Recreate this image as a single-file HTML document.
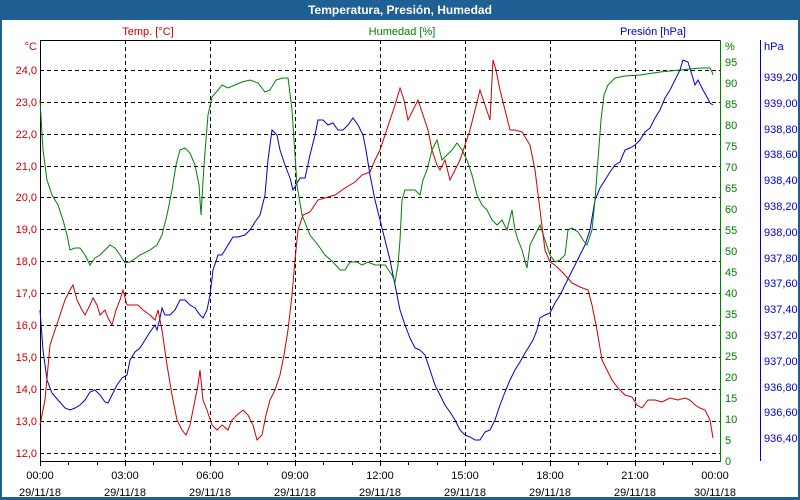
<!DOCTYPE html>
<html><head><meta charset="utf-8"><style>
body{margin:0;width:800px;height:500px;overflow:hidden;background:#fff}
svg{display:block}
text{font-family:"Liberation Sans","DejaVu Sans",sans-serif;font-size:11px}
</style></head><body>
<svg width="800" height="500" xmlns="http://www.w3.org/2000/svg">
<rect x="0" y="0" width="800" height="500" fill="#1e5f94"/>
<rect x="2" y="20" width="796" height="477" fill="#fff"/>
<text x="400" y="14" fill="#fff" text-anchor="middle" font-weight="bold" style="font-size:12px">Temperatura, Presión, Humedad</text>
<g stroke="#000" stroke-dasharray="4,3" stroke-width="1">
<line x1="40" y1="70.5" x2="720" y2="70.5"/><line x1="40" y1="102.5" x2="720" y2="102.5"/><line x1="40" y1="134.5" x2="720" y2="134.5"/><line x1="40" y1="166.5" x2="720" y2="166.5"/><line x1="40" y1="197.5" x2="720" y2="197.5"/><line x1="40" y1="229.5" x2="720" y2="229.5"/><line x1="40" y1="261.5" x2="720" y2="261.5"/><line x1="40" y1="293.5" x2="720" y2="293.5"/><line x1="40" y1="325.5" x2="720" y2="325.5"/><line x1="40" y1="357.5" x2="720" y2="357.5"/><line x1="40" y1="389.5" x2="720" y2="389.5"/><line x1="40" y1="421.5" x2="720" y2="421.5"/><line x1="40" y1="453.5" x2="720" y2="453.5"/>
<line x1="125.5" y1="40" x2="125.5" y2="461"/><line x1="210.5" y1="40" x2="210.5" y2="461"/><line x1="295.5" y1="40" x2="295.5" y2="461"/><line x1="380.5" y1="40" x2="380.5" y2="461"/><line x1="465.5" y1="40" x2="465.5" y2="461"/><line x1="550.5" y1="40" x2="550.5" y2="461"/><line x1="635.5" y1="40" x2="635.5" y2="461"/>
</g>
<g stroke="#000"><line x1="40.5" y1="40" x2="40.5" y2="466"/><line x1="40" y1="40.5" x2="720" y2="40.5"/><line x1="40" y1="461.5" x2="720" y2="461.5"/>
<path d="M68.5 461v4M97.5 461v4M125.5 461v5M153.5 461v4M182.5 461v4M210.5 461v5M238.5 461v4M267.5 461v4M295.5 461v5M323.5 461v4M352.5 461v4M380.5 461v5M408.5 461v4M437.5 461v4M465.5 461v5M493.5 461v4M522.5 461v4M550.5 461v5M578.5 461v4M607.5 461v4M635.5 461v5M663.5 461v4M692.5 461v4"/></g>
<line x1="720.5" y1="40" x2="720.5" y2="462" stroke="#008000"/>
<line x1="760.5" y1="40" x2="760.5" y2="461" stroke="#0000cc"/>
<g fill="#cc0000" text-anchor="end">
<text x="37" y="50">°C</text>
<text x="37" y="74">24,0</text><text x="37" y="106">23,0</text><text x="37" y="138">22,0</text><text x="37" y="170">21,0</text><text x="37" y="201">20,0</text><text x="37" y="233">19,0</text><text x="37" y="265">18,0</text><text x="37" y="297">17,0</text><text x="37" y="329">16,0</text><text x="37" y="361">15,0</text><text x="37" y="393">14,0</text><text x="37" y="425">13,0</text><text x="37" y="457">12,0</text>
</g>
<text x="148" y="35" fill="#cc0000" text-anchor="middle">Temp. [°C]</text>
<text x="402" y="35" fill="#008000" text-anchor="middle">Humedad [%]</text>
<text x="686" y="35" fill="#0000cc" text-anchor="end">Presión [hPa]</text>
<g fill="#008000">
<text x="725" y="50">%</text>
<text x="725" y="66">95</text><text x="725" y="87">90</text><text x="725" y="108">85</text><text x="725" y="129">80</text><text x="725" y="150">75</text><text x="725" y="171">70</text><text x="725" y="192">65</text><text x="725" y="213">60</text><text x="725" y="234">55</text><text x="725" y="255">50</text><text x="725" y="276">45</text><text x="725" y="297">40</text><text x="725" y="318">35</text><text x="725" y="339">30</text><text x="725" y="360">25</text><text x="725" y="381">20</text><text x="725" y="402">15</text><text x="725" y="423">10</text><text x="725" y="444">5</text><text x="725" y="465">0</text>
</g>
<g fill="#0000cc">
<text x="764" y="50">hPa</text>
<text x="764" y="81">939,20</text><text x="764" y="107">939,00</text><text x="764" y="133">938,80</text><text x="764" y="158">938,60</text><text x="764" y="184">938,40</text><text x="764" y="210">938,20</text><text x="764" y="236">938,00</text><text x="764" y="262">937,80</text><text x="764" y="287">937,60</text><text x="764" y="313">937,40</text><text x="764" y="339">937,20</text><text x="764" y="365">937,00</text><text x="764" y="391">936,80</text><text x="764" y="416">936,60</text><text x="764" y="442">936,40</text>
</g>
<g fill="#000" text-anchor="middle">
<text x="40" y="479">00:00</text><text x="40" y="496">29/11/18</text>
<text x="125" y="479">03:00</text><text x="125" y="496">29/11/18</text>
<text x="210" y="479">06:00</text><text x="210" y="496">29/11/18</text>
<text x="295" y="479">09:00</text><text x="295" y="496">29/11/18</text>
<text x="380" y="479">12:00</text><text x="380" y="496">29/11/18</text>
<text x="465" y="479">15:00</text><text x="465" y="496">29/11/18</text>
<text x="550" y="479">18:00</text><text x="550" y="496">29/11/18</text>
<text x="635" y="479">21:00</text><text x="635" y="496">29/11/18</text>
<text x="715" y="479">00:00</text><text x="715" y="496">30/11/18</text>
</g>
<polyline fill="none" stroke="#0000cc" points="40,310 43,350 47,380 52,393 58,400 65,408 70,410 75,408 80,405 85,400 90,392 95,390 100,395 105,402 108,403 112,395 117,385 122,378 127,375 130,360 135,352 140,348 145,340 150,332 155,325 157,330 160,318 162,308 165,315 170,315 175,310 180,300 185,300 190,305 195,308 200,315 203,318 207,310 210,295 213,270 218,255 222,255 228,245 233,237 238,237 245,235 250,230 255,222 260,215 265,195 268,160 272,130 277,135 280,150 285,165 290,178 293,190 296,185 300,178 305,178 310,155 315,135 318,120 323,120 328,125 333,123 338,130 343,130 348,125 353,118 358,125 363,135 366,150 370,175 375,200 380,220 385,240 390,260 395,285 400,310 405,325 410,338 415,348 420,350 425,355 430,370 435,385 440,395 445,405 450,412 455,420 460,430 465,435 470,437 475,440 480,440 485,432 490,430 495,420 500,405 505,392 510,380 515,370 520,362 525,353 530,345 533,340 537,330 540,318 545,315 550,313 555,303 560,295 565,285 570,275 575,265 580,255 585,245 590,230 595,200 600,188 605,180 610,172 615,165 620,162 625,150 630,148 635,145 640,140 645,132 650,128 655,118 660,110 665,98 670,90 675,80 680,70 683,60 688,62 692,75 695,85 698,80 703,90 707,97 710,103 713,105"/>
<polyline fill="none" stroke="#008000" points="40,100 43,150 47,180 52,195 58,205 63,220 67,235 70,250 75,248 80,248 85,255 90,265 95,258 100,255 105,250 110,245 115,248 120,255 125,263 130,262 140,255 150,250 157,245 162,235 167,215 172,190 176,165 180,150 185,148 190,153 195,165 199,185 201,215 204,165 208,115 212,97 218,90 222,85 228,88 235,85 242,82 250,80 258,83 265,92 270,90 276,80 283,78 288,78 292,110 297,185 302,215 310,235 318,245 325,255 333,262 340,270 345,270 350,262 357,262 362,265 368,262 375,265 385,265 392,275 395,282 398,265 400,240 402,200 405,190 410,190 415,190 420,195 423,180 427,170 432,150 437,140 442,160 447,155 452,150 457,143 462,150 467,160 472,175 477,195 482,205 487,210 492,220 497,225 502,220 507,230 512,210 515,230 518,240 522,250 527,268 530,245 535,235 540,225 545,240 550,255 555,262 560,260 565,255 568,230 572,228 578,232 583,240 587,245 592,230 595,200 598,160 601,120 604,95 608,85 615,78 625,76 640,75 660,72 680,70 700,68 710,68 712,72 713,75"/>
<polyline fill="none" stroke="#cc0000" points="40,425 45,400 50,345 55,330 60,315 65,300 70,290 73,285 77,300 82,310 85,315 90,305 93,298 97,305 100,315 105,310 108,318 112,325 116,310 120,300 123,290 127,305 132,305 138,305 143,310 150,315 155,320 158,310 162,330 167,365 172,395 177,420 182,430 186,435 190,425 195,400 198,385 200,370 203,400 207,410 212,425 217,430 222,425 228,430 232,420 237,415 243,410 248,415 253,425 257,440 262,435 266,415 270,400 275,390 280,375 284,355 288,330 292,295 295,260 298,230 303,215 310,212 318,200 325,198 335,195 345,188 355,182 362,175 370,172 375,160 380,150 385,135 390,120 395,105 400,88 404,100 408,120 413,110 418,100 423,115 428,130 432,150 437,165 440,170 445,160 450,180 455,170 460,160 465,145 470,130 475,110 480,90 485,105 490,120 493,60 496,70 500,90 505,110 510,130 515,130 522,132 530,145 535,170 540,210 545,250 550,262 555,265 560,270 565,275 572,283 580,287 588,290 592,305 597,330 602,360 607,370 612,380 618,388 625,395 632,397 637,405 642,408 648,400 655,400 662,402 670,398 678,400 685,398 690,400 695,405 700,408 705,410 710,420 713,438"/>
</svg>
</body></html>
